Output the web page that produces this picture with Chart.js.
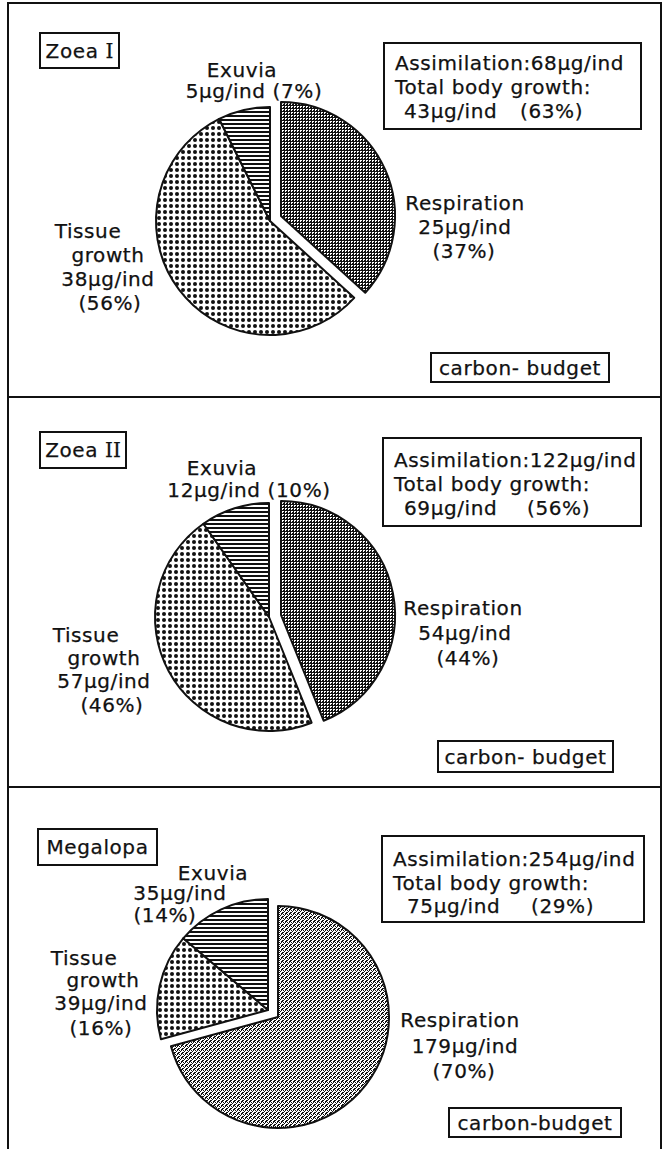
<!DOCTYPE html>
<html><head><meta charset="utf-8">
<script src="https://cdn.jsdelivr.net/npm/chart.js@4"></script>
<style>
html,body{margin:0;padding:0;background:#fff;}
#page{position:relative;width:664px;height:1149px;overflow:hidden;background:#fff;font-family:"DejaVu Sans",sans-serif;font-size:20px;letter-spacing:0.6px;color:#111;-webkit-text-stroke:0.25px #111;}
.t{position:absolute;white-space:pre;line-height:20px;}
.box{position:absolute;border:2px solid #111;box-sizing:border-box;display:flex;align-items:center;justify-content:center;white-space:pre;line-height:20px;}
.ln{position:absolute;background:#111;}
canvas{position:absolute;}
.rn{font-family:"DejaVu Serif",serif;letter-spacing:0;}
</style></head><body><div id="page"></div>
<script>
// ---- data ----
const categories = ['Respiration', 'Tissue growth', 'Exuvia'];
const stages = ['Zoea I', 'Zoea II', 'Megalopa'];
const respiration = [25, 54, 179];      // µg C / ind
const tissueGrowth = [38, 57, 39];
const exuvia = [5, 12, 35];
const respirationPct = [37, 44, 70];
const tissuePct = [56, 46, 16];
const exuviaPct = [7, 10, 14];
const assimilation = [68, 122, 254];
const totalGrowth = [43, 69, 75];
const totalGrowthPct = [63, 56, 29];
const boxLabel = ['carbon- budget', 'carbon- budget', 'carbon-budget'];

// ---- layout (positions only) ----
const layout = [
  { cx:270, cy:221, r:114, light:false,
    stageBox:[39,32,81,37], info:[383,42,259,88], infoBase:[70,94,118], info3:[404,520],
    exu:[[242,77],[254,98]], resp:[[465,210],[465,234],[464,258]],
    tis:[[88,238],[108,262],[108,286],[110,310]], cb:[430,352,180,31] },
  { cx:269, cy:617, r:114, light:false,
    stageBox:[39,431,88,38], info:[382,437,260,90], infoBase:[467,491,515], info3:[404,527],
    exu:[[222,475],[249,497]], resp:[[463,615],[465,640],[468,665]],
    tis:[[86,642],[104,665],[104,688],[112,712]], cb:[437,740,177,33] },
  { cx:268, cy:1010, r:111, light:true,
    stageBox:[37,828,121,38], info:[381,835,264,88], infoBase:[866,890,913], info3:[407,531],
    exu:[[213,880],[180,900],[165,922]], resp:[[460,1027],[465,1053],[464,1078]],
    tis:[[84,965],[103,987],[101,1010],[101,1035]], cb:[448,1107,174,31] }
];
const EXPLODE = 12;

const page = document.getElementById('page');
function el(cls, x, y, w, h) {
  const d = document.createElement('div'); d.className = cls;
  d.style.left = x + 'px'; d.style.top = y + 'px';
  if (w != null) d.style.width = w + 'px';
  if (h != null) d.style.height = h + 'px';
  page.appendChild(d); return d;
}
function text(str, x, base, center) {
  const d = el('t', x, base - 17);
  d.textContent = str;
  if (center) d.style.transform = 'translateX(-50%)';
  return d;
}

// frame
el('ln', 7, 2, 2, 1147);
el('ln', 660, 2, 2, 1147);
el('ln', 7, 2, 655, 2);
el('ln', 7, 396, 655, 2);
el('ln', 7, 786, 655, 2);

function tile(w, h, draw) {
  const c = document.createElement('canvas'); c.width = w; c.height = h;
  const g = c.getContext('2d'); g.fillStyle = '#fff'; g.fillRect(0, 0, w, h);
  g.fillStyle = '#111'; draw(g); return c;
}
function bitmap(rows) {
  return tile(rows[0].length, rows.length, g => {
    rows.forEach((row, y) => { for (let x = 0; x < row.length; x++) if (row[x] === 'X') g.fillRect(x, y, 1, 1); });
  });
}
const tiles = {
  dark: tile(3, 3, g => { g.fillRect(0, 0, 3, 1); g.fillRect(0, 0, 1, 3); g.fillRect(2, 2, 1, 1); }),
  light: bitmap(['X.X.', '.X..', 'X..X', '..XX']),
  dots: tile(6, 6, g => { g.beginPath(); g.arc(3, 3, 2.0, 0, Math.PI * 2); g.fill(); }),
  lines: tile(1, 4, g => { g.fillRect(0, 0, 1, 2); })
};

const explodePlugin = {
  id: 'explodeFirst',
  afterUpdate(chart) {
    const meta = chart.getDatasetMeta(0);
    const arc = meta.data[0];
    if (!arc || arc._exploded) return;
    const base = arc.draw;
    arc.draw = function (ctx) {
      const mid = (this.startAngle + this.endAngle) / 2;
      ctx.save();
      ctx.translate(Math.round(Math.cos(mid) * EXPLODE), Math.round(Math.sin(mid) * EXPLODE));
      base.call(this, ctx);
      ctx.restore();
    };
    arc._exploded = true;
  }
};

stages.forEach((stage, i) => {
  const L = layout[i];
  // stage box
  const sb = el('box', L.stageBox[0], L.stageBox[1], L.stageBox[2], L.stageBox[3]);
  const m = stage.match(/^(.*) (I+)$/);
  if (m) { sb.innerHTML = m[1] + ' <span class="rn">' + m[2] + '</span>'; } else sb.textContent = stage;

  // info box
  el('box', L.info[0], L.info[1], L.info[2], L.info[3]);
  text('Assimilation:' + assimilation[i] + 'µg/ind', L.info[0] + 12, L.infoBase[0]);
  text('Total body growth:', L.info[0] + 12, L.infoBase[1]);
  text(totalGrowth[i] + 'µg/ind', L.info3[0], L.infoBase[2]);
  text('(' + totalGrowthPct[i] + '%)', L.info3[1], L.infoBase[2]);

  // exuvia label
  text(categories[2], L.exu[0][0], L.exu[0][1], true);
  if (L.exu.length === 2) {
    text(exuvia[i] + 'µg/ind (' + exuviaPct[i] + '%)', L.exu[1][0], L.exu[1][1], true);
  } else {
    text(exuvia[i] + 'µg/ind', L.exu[1][0], L.exu[1][1], true);
    text('(' + exuviaPct[i] + '%)', L.exu[2][0], L.exu[2][1], true);
  }
  // respiration label
  text(categories[0], L.resp[0][0], L.resp[0][1], true);
  text(respiration[i] + 'µg/ind', L.resp[1][0], L.resp[1][1], true);
  text('(' + respirationPct[i] + '%)', L.resp[2][0], L.resp[2][1], true);
  // tissue label
  const tw = categories[1].split(' ');
  text(tw[0], L.tis[0][0], L.tis[0][1], true);
  text(tw[1], L.tis[1][0], L.tis[1][1], true);
  text(tissueGrowth[i] + 'µg/ind', L.tis[2][0], L.tis[2][1], true);
  text('(' + tissuePct[i] + '%)', L.tis[3][0], L.tis[3][1], true);
  // carbon budget box
  const cb = el('box', L.cb[0], L.cb[1], L.cb[2], L.cb[3]);
  cb.textContent = boxLabel[i];

  // pie
  const W = 2 * (L.r + 24);
  const cv = document.createElement('canvas');
  cv.width = W; cv.height = W;
  cv.style.width = W + 'px'; cv.style.height = W + 'px';
  cv.style.left = (L.cx - W / 2) + 'px'; cv.style.top = (L.cy - W / 2) + 'px';
  page.appendChild(cv);
  const ctx = cv.getContext('2d');
  const fills = [
    ctx.createPattern(L.light ? tiles.light : tiles.dark, 'repeat'),
    ctx.createPattern(tiles.dots, 'repeat'),
    ctx.createPattern(tiles.lines, 'repeat')
  ];
  new Chart(ctx, {
    type: 'pie',
    data: {
      labels: categories,
      datasets: [{
        data: [respiration[i], tissueGrowth[i], exuvia[i]],
        backgroundColor: fills,
        borderColor: '#111',
        borderWidth: 2,
        borderJoinStyle: 'round'
      }]
    },
    options: {
      responsive: false,
      devicePixelRatio: 1,
      animation: false,
      events: [],
      radius: L.r,
      layout: { padding: 0 },
      plugins: { legend: { display: false }, tooltip: { enabled: false } }
    },
    plugins: [explodePlugin]
  });
});
</script>
</body></html>
